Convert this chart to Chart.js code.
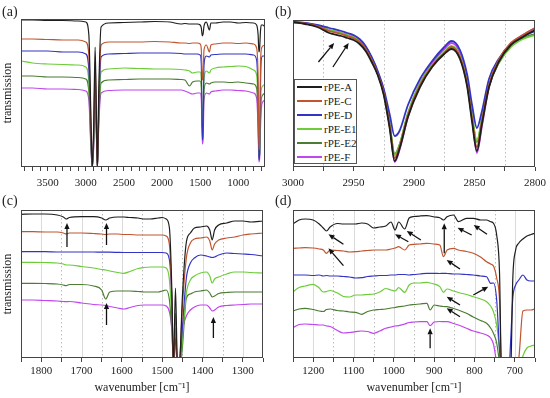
<!DOCTYPE html>
<html><head><meta charset="utf-8">
<script src="https://cdn.jsdelivr.net/npm/chart.js@4.4.1/dist/chart.umd.min.js"></script>
<style>
html,body{margin:0;padding:0;background:#fff;}
body{width:550px;height:398px;position:relative;overflow:hidden;font-family:"Liberation Serif","Times New Roman",serif;}
canvas{position:absolute;}
.pl{position:absolute;font-size:14px;color:#222;line-height:14px;}
#legend{position:absolute;left:294px;top:79px;width:61px;height:83px;border:1px solid #555;background:#fff;}
.row{position:absolute;left:0;height:14px;width:61px;font-size:11px;color:#222;line-height:14px;}
.row .l{position:absolute;left:2px;top:6px;width:25px;height:2px;}
.row .t{position:absolute;left:29px;top:0;white-space:nowrap;}
</style></head><body>
<canvas id="ca" width="275" height="198" style="left:0;top:0"></canvas>
<canvas id="cb" width="275" height="198" style="left:275px;top:0"></canvas>
<canvas id="cc" width="275" height="200" style="left:0;top:198px"></canvas>
<canvas id="cd" width="275" height="200" style="left:275px;top:198px"></canvas>
<div class="pl" style="left:2px;top:5px">(a)</div>
<div class="pl" style="left:275px;top:5px">(b)</div>
<div class="pl" style="left:2px;top:194px">(c)</div>
<div class="pl" style="left:275px;top:194px">(d)</div>
<div id="legend"></div>
<script>
// ---------- series ----------
const seriesNames = ['rPE-A','rPE-C','rPE-D','rPE-E1','rPE-E2','rPE-F'];
const seriesColors = ['#1e1e1e','#c0562f','#3434c4','#6ccc3a','#4b7d32','#c046ee'];

// ---------- panel (a): 3850-650 cm-1 ----------
const wa = [3850,3700,3500,3300,3100,3000,2960,2935,2915,2895,2878,2862,2848,2830,2800,2700,2500,2300,2100,1900,1750,1700,1640,1600,1540,1500,1485,1472,1462,1450,1420,1378,1360,1300,1200,1100,1000,900,800,760,740,730,720,710,700,680,650];
const aA = [147,147,146.5,146.5,146,145,132,57,-1,47,120,57,-1,77,140,144,144.5,145,145.5,145,143,143.5,143,143,143,142,139,131,133,141,145,137,144,144,145,145,144,144.5,144,142,132,115,119,135,142,142,140];
const aC = [128,128,127.5,127,127,125,112,47,-1,42,105,52,-1,67,122,125,125,125,125.5,125,124,124,123.5,124,124,123,117,87,92,117,122,115,122,123,124,124,123.5,124,123,119,87,17,27,97,117,121,122];
const aD = [116,116,116,115,115,113,97,37,-1,37,92,47,-1,57,110,113,113.5,114,114,114,113.5,113,113,113,113,112,102,27,37,102,111,110,112,112.5,113,113,113,113,112,107,67,7,17,77,107,111,111];
const aE1 = [106,104,103,102.5,102,100,85,32,-1,32,79,42,-1,52,95,98,99,98.5,98,98,97.5,97,96,94,95,95,87,42,47,87,96,94,97,99,100,100.5,101,100.5,97,92,57,12,17,57,77,81,83];
const aE2 = [91,91,90,90,89.5,88,75,27,-1,27,67,37,-1,47,84,87,87.5,88,88,88,87.5,87,81,85,86,86,79,37,42,77,84,83,84,85,85,84.5,85,84,83,79,47,9,12,47,67,72,74];
const aF = [79,79,78,78,77.5,76,67,22,-1,22,55,32,-1,42,74,76.5,77,77,77,77,77,76,74,73,74,74,67,23,27,67,74,73,75,76,77,77,76.5,76,74,69,37,5,9,37,57,65,67];
const labelsA = [3500,3000,2500,2000,1500,1000];

// ---------- panel (b): 3000-2800 cm-1 ----------
const wb = [3000,2990,2980,2970,2960,2955,2950,2945,2940,2935,2930,2925,2920,2916,2912,2905,2895,2885,2875,2869,2862,2856,2852,2848,2844,2838,2830,2820,2810,2800];
const bA = [145,143,140,134,131,129,127,123,116,105,92,72,38,6,18,50,80,100,113,118,108,80,45,16,42,80,105,122,130,137];
const bC = [145,143.5,141,136,133,131,129,125,118,107,93,74,40,9,20,52,82,101,114,120,110,82,48,20,45,82,107,124,132,139];
const bD = [145,144,142,139,136,134,132,128,121,110,96,78,52,31,36,62,88,106,120,126,117,92,62,39,55,88,108,123,131,136];
const bE1 = [145,143.5,141,137,134,132,130,126,119,108,94,75,42,12,22,54,84,102,115,121,111,84,52,26,47,82,104,120,128,132];
const bE2 = [145,143.5,141,136.5,133.5,131,129,125,118,107,93,74,41,13,22,53,83,101,114,119,109,83,50,25,46,81,104,121,129,133];
const bF = [145,144,141.5,137,134,132,131,127,120,109,95,76,42,5,17,50,83,104,118,124,114,86,50,14,40,80,106,123,132,139];
const labelsB = [3000,2950,2900,2850,2800];
const arrowsB = [[2979,105,2966,124],[2967,100,2954,124]];

// ---------- panel (c): 1850-1250 cm-1 ----------
const wc = [1850,1820,1790,1760,1745,1738,1730,1700,1670,1650,1640,1630,1610,1595,1580,1560,1545,1530,1510,1500,1490,1482,1476,1472,1467,1462,1456,1450,1440,1430,1420,1405,1390,1382,1376,1370,1360,1340,1320,1300,1280,1250];
const cA = [143.7,144,144,143,141,139,140.5,141.3,141.3,140,138,140,141,141,140.5,140,139,139,140,140.5,139,130,68,-10,70,-10,0,60,116,125,130,131,132,128,118,128,133,135,137,137,136,137];
const cC = [126.3,126.3,126,126,125,124,125,125,124.5,124,123.5,124,124,123.5,123.5,123,123,123,123,123,122,113,58,-10,45,-10,0,50,100,115,119,120,121,117,108,114,118,120,121,123,124,125];
const cD = [106.3,106.3,106.3,106,106,106,106,106,106,105.8,105.8,105.8,105.6,105.5,105.5,105.5,105.5,105.5,105.5,105.5,105,98,58,-5,20,-10,-5,30,80,95,100,103,102,101,100.5,101,103,105,104.5,104,103.5,102];
const cE1 = [95.7,95.7,95.5,95,94,93,93,91.5,90,88.5,88,87,85.5,84.7,86.5,89.5,90.5,91,91,91,90,78,38,-10,15,-10,-10,20,65,78,82,85,86,82,75,79,81,84,86,86,85.5,85];
const cE2 = [74.7,74.7,74.5,74,73,72.3,73.5,73.5,72,68,59,66,67,67,67,66.5,66,66,66,67,68,58,28,0,30,-10,-10,10,60,64,66,67,68,65,61,62,64.5,65.5,66,66,66,66];
const cF = [58,58,57.5,57,56.5,56.3,56.5,55,53.5,53,52.5,51.5,50,49,50.5,52.5,53,53,53,53,52,46,28,-5,25,-10,-10,25,42,48,51,53,53,50,47,48,51,52.5,53,53.5,54,54];
const labelsC = [1800,1700,1600,1500,1400,1300];
const arrowsC = [[1736,111,1736,135],[1638,113,1638,135],[1638,33,1638,55],[1373,20,1373,41]];

// ---------- panel (d): 1250-650 cm-1 ----------
const wd = [1250,1235,1220,1200,1185,1175,1167,1158,1140,1125,1110,1095,1080,1065,1050,1035,1020,1007,997,988,973,962,950,935,918,910,900,886,877,868,852,840,820,803,785,770,760,753,745,738,733,725,715,710,705,698,690,680,670,660,650];
const dA = [134,138,139,138,134,130,127,131,134.5,134,134,134,135,134,130,131,132,136,128,136,129,140,141.5,142,142.3,142,141,140.3,138,141.3,143,136.3,139.7,139.7,138,138,136.3,134.7,123,86,-15,-20,-15,-10,80,108,115,119,122,123.5,124.7];
const dC = [109.7,110,110.3,110,109,108,104.7,108,107.5,107,106,106.3,107,107.5,108,108,108,109,110,111.3,108,113,113.7,114,114.7,114.5,114,113,101.3,108,109.7,108,106.5,104.7,101,96.3,94,92,80,58,-10,-20,-20,-20,-20,-15,0,47,48,48,49];
const dD = [83,83,83,82.5,83,82,82.5,82,82,81.5,81,80,80.3,81.5,82,82.5,82.5,83,83,83.5,83.5,83,83.5,84,84.7,84.7,84.7,84.5,84.7,84.5,84,84,83.5,83,82,81.3,74.7,75,58,8,-15,-20,-15,20,60,73,78,83,78,77,77];
const dE1 = [66.3,70.5,72,73.7,70,66,66.5,67.5,65,61.5,61,63,63,63.5,64,66,69.5,68,67,70.3,65.7,73,75,75,75.7,75,74,71.3,65.7,69,67,65.5,63.5,61.3,59,56.3,52,46.3,33,8,-15,-20,-20,-20,-20,-20,-15,2,10,12,13];
const dE2 = [47,49,49.7,48.5,47,46.5,48.5,49,47.5,47,46,45.7,43.7,46.5,48,48.5,49,50,50.5,51.3,52,53,53.5,54,54.7,48,53,52,51.5,51.3,49.5,48,44.7,41,37.5,34.7,30,24.7,15,-5,-20,-20,-20,-20,-20,-20,-20,-10,-5,-2,0];
const dF = [30.3,33.5,34,33.5,33,33,32,31.5,27.5,25,25.5,26.3,27,26.5,24.7,27,29.7,31,32,32.3,34,35.5,36,36.3,36.3,32.3,36,36.5,36.3,36.3,34.5,33,29.7,27,25,23,20,14,-5,-20,-20,-20,-20,-20,-20,-20,-20,-20,-20,-20,-20];
const labelsD = [1200,1100,1000,900,800,700];
const arrowsD = [[1125,113.7,1162,123.7],[1125,92.3,1162,109.7],[964,116.3,997,123.7],[933,118,968,127],[875,104.7,875,134.7],[807,123,842,130.3],[769,123.7,802,133],[836,89,869,98],[803,63,766,71.3],[836,53,869,61.3],[836,41.3,869,49.7],[910,9.7,910,29.7]];

// ---------- drawing ----------
const FONT = '"Liberation Serif","Times New Roman",serif';
function range(a,b,s){const r=[];for(let v=a;v<=b+1e-9;v+=s)r.push(v);return r;}

function drawArrow(ctx,x1,y1,x2,y2){
  const ang=Math.atan2(y2-y1,x2-x1), L=6, W=2.6;
  const bx=x2-L*Math.cos(ang), by=y2-L*Math.sin(ang);
  ctx.beginPath();ctx.moveTo(x1,y1);ctx.lineTo(bx,by);ctx.stroke();
  ctx.beginPath();ctx.moveTo(x2,y2);
  ctx.lineTo(bx+W*Math.sin(ang),by-W*Math.cos(ang));
  ctx.lineTo(bx-W*Math.sin(ang),by+W*Math.cos(ang));
  ctx.closePath();ctx.fill();
}

const panelPlugin = {
  id:'panel',
  beforeDatasetsDraw(chart,args,o){
    const {ctx,chartArea:a,scales:{x}}=chart;
    ctx.save();ctx.lineWidth=1;
    (o.solid||[]).forEach(v=>{const p=Math.round(x.getPixelForValue(v))+0.5;
      ctx.strokeStyle='#dadada';ctx.setLineDash([]);ctx.beginPath();ctx.moveTo(p,a.top);ctx.lineTo(p,a.bottom);ctx.stroke();});
    (o.dotted||[]).forEach(v=>{const p=Math.round(x.getPixelForValue(v))+0.5;
      ctx.strokeStyle='#bdbdbd';ctx.setLineDash([1.5,2.5]);ctx.beginPath();ctx.moveTo(p,a.top);ctx.lineTo(p,a.bottom);ctx.stroke();});
    ctx.restore();
  },
  afterDatasetsDraw(chart,args,o){
    const {ctx,chartArea:a,scales:{x,y}}=chart;
    ctx.save();
    ctx.strokeStyle='#111';ctx.fillStyle='#111';ctx.lineWidth=1.3;
    (o.arrows||[]).forEach(r=>drawArrow(ctx,x.getPixelForValue(r[0]),y.getPixelForValue(r[1]),x.getPixelForValue(r[2]),y.getPixelForValue(r[3])));
    ctx.strokeStyle='#444';ctx.lineWidth=1;ctx.setLineDash([]);
    ctx.strokeRect(Math.round(a.left)+0.5,Math.round(a.top)+0.5,Math.round(a.right-a.left)-1,Math.round(a.bottom-a.top)-1);
    ctx.restore();
  }
};

function makeChart(id,c){
  const datasets=c.series.map((vals,i)=>({label:seriesNames[i],
    data:c.w.map((w,j)=>({x:w,y:vals[j]})),
    borderColor:seriesColors[i],borderWidth:c.lw,pointRadius:0,
    cubicInterpolationMode:'monotone',fill:false}));
  return new Chart(document.getElementById(id),{
    type:'line',data:{datasets},
    options:{responsive:false,animation:false,devicePixelRatio:1,
      layout:{padding:c.pad},
      plugins:{legend:{display:false},tooltip:{enabled:false},
        panel:{solid:c.solid,dotted:c.dotted,arrows:c.arrows}},
      scales:{
        x:{type:'linear',reverse:true,min:c.xmin,max:c.xmax,
          afterBuildTicks:s=>{s.ticks=c.ticks.map(v=>({value:v}));},
          afterFit:s=>{s.height=c.xh;},
          ticks:{autoSkip:false,maxRotation:0,minRotation:0,padding:c.tp,color:'#222',
            font:{family:FONT,size:11},callback:v=>c.labels.includes(v)?String(v):''},
          grid:{drawOnChartArea:false,drawTicks:true,tickLength:4,tickColor:'#444',tickWidth:1},
          border:{display:false},
          title:{display:!!c.xtitle,text:c.xtitle||'',color:'#222',font:{family:FONT,size:12},padding:{top:0,bottom:3}}
        },
        y:{display:!!c.ytitle,min:0,max:c.ymax,
          afterFit:s=>{s.width=c.yw||0;},
          ticks:{display:false},grid:{display:false},border:{display:false},
          title:{display:!!c.ytitle,text:c.ytitle||'',color:'#222',font:{family:FONT,size:12},padding:{top:1,bottom:0}}
        }
      }
    },
    plugins:[panelPlugin]
  });
}

makeChart('ca',{w:wa,series:[aA,aC,aD,aE1,aE2,aF],lw:1.2,xmin:650,xmax:3850,
  ticks:range(700,3800,100),labels:labelsA,xh:31,tp:6,ymax:148,ytitle:'transmission',yw:21,
  pad:{top:19,right:10,left:0,bottom:0},solid:[],dotted:[],arrows:[]});
makeChart('cb',{w:wb,series:[bA,bC,bD,bE1,bE2,bF],lw:1.8,xmin:2800,xmax:3000,
  ticks:range(2800,3000,25),labels:labelsB,xh:31,tp:6,ymax:147,
  pad:{top:20,right:15,left:18,bottom:0},solid:[],dotted:[2975,2925,2875,2825],arrows:arrowsB});
makeChart('cc',{w:wc,series:[cA,cC,cD,cE1,cE2,cF],lw:1.2,xmin:1250,xmax:1850,
  ticks:range(1250,1850,50),labels:labelsC,xh:40,tp:3,ymax:148,ytitle:'transmission',yw:21,
  xtitle:'wavenumber [cm\u207B\u00B9]',
  pad:{top:12,right:12,left:0,bottom:0},solid:[1800,1700,1600,1500,1400,1300],dotted:[1750,1650,1550,1450,1350],arrows:arrowsC});
makeChart('cd',{w:wd,series:[dA,dC,dD,dE1,dE2,dF],lw:1.2,xmin:650,xmax:1250,
  ticks:range(650,1250,50),labels:labelsD,xh:40,tp:3,ymax:148,
  xtitle:'wavenumber [cm\u207B\u00B9]',
  pad:{top:12,right:15,left:18,bottom:0},solid:[1200,1100,1000,900,800,700],dotted:[1150,1050,950,850,750],arrows:arrowsD});

// legend for panel (b)
const lg=document.getElementById('legend');
seriesNames.forEach((n,i)=>{
  const r=document.createElement('div');r.className='row';r.style.top=(i*14)+'px';
  const l=document.createElement('span');l.className='l';l.style.background=seriesColors[i];
  const t=document.createElement('span');t.className='t';t.textContent=n;
  r.appendChild(l);r.appendChild(t);lg.appendChild(r);
});
</script>
</body></html>
